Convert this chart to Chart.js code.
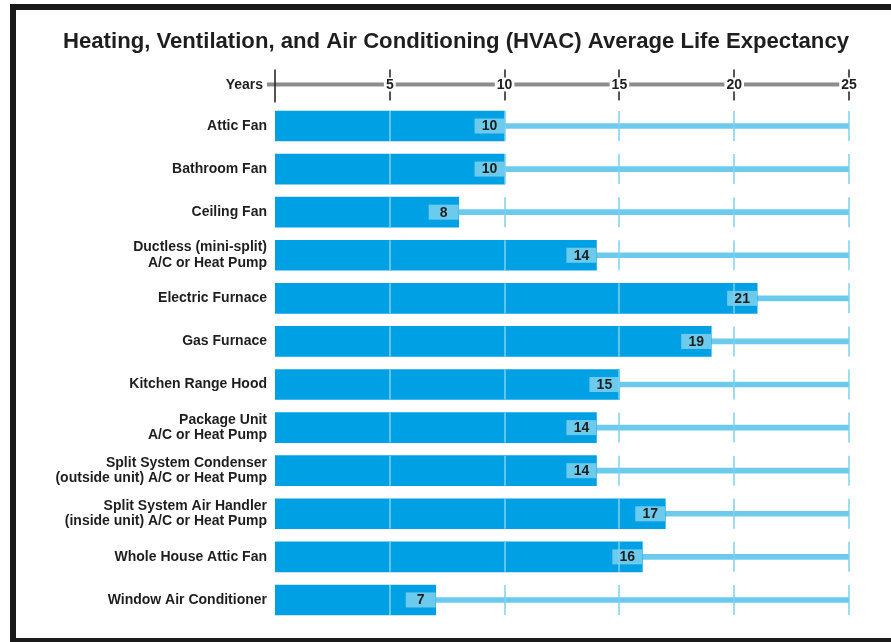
<!DOCTYPE html>
<html>
<head>
<meta charset="utf-8">
<script src="https://cdn.jsdelivr.net/npm/chart.js@4.4.0/dist/chart.umd.min.js"></script>
<style>
  html, body { margin: 0; padding: 0; background: #fff; }
  #wrap { position: relative; width: 891px; height: 642px; overflow: hidden; }
  #frame { position: absolute; left: 10px; top: 4px; width: 900px; height: 628px; border: 6px solid #1a1a1a; }
  #hvacChart { position: absolute; left: 0; top: 0; }
</style>
</head>
<body>
<div id="wrap">
  <div id="frame"></div>
  <canvas id="hvacChart" width="891" height="642"></canvas>
</div>
<script>
// Data
const chartTitle = 'Heating, Ventilation, and Air Conditioning (HVAC) Average Life Expectancy';
const axisTitle = 'Years';
const categories = [
    'Attic Fan',
    'Bathroom Fan',
    'Ceiling Fan',
    ['Ductless (mini-split)', 'A/C or Heat Pump'],
    'Electric Furnace',
    'Gas Furnace',
    'Kitchen Range Hood',
    ['Package Unit', 'A/C or Heat Pump'],
    ['Split System Condenser', '(outside unit) A/C or Heat Pump'],
    ['Split System Air Handler', '(inside unit) A/C or Heat Pump'],
    'Whole House Attic Fan',
    'Window Air Conditioner'
];
const lifeYears = [10, 10, 8, 14, 21, 19, 15, 14, 14, 17, 16, 7];
const yearTicks = [0, 5, 10, 15, 20, 25];
const axisMax = yearTicks[yearTicks.length - 1];

const fontFamily = '"Liberation Sans", Arial, Helvetica, sans-serif';
const textColor = '#1e1e1e';
const barBlue = '#00a1e4';
const lightBlue = '#6ccbed';
const titleCenterX = 456; // title sits a bit right of the canvas centre

// Custom drawing: value boxes, per-row grid marks, top axis line
const hvacDecor = {
    id: 'hvacDecor',
    afterLayout(chart) {
        const tb = chart.titleBlock;
        if (tb) tb.left = 2 * titleCenterX - tb.right;
    },
    afterDatasetsDraw(chart) {
        const { ctx, scales: { x } } = chart;
        const bars = chart.getDatasetMeta(0).data;
        ctx.save();
        bars.forEach((bar, i) => {
            const h = bar.height;
            // value box at bar end
            ctx.fillStyle = lightBlue;
            ctx.fillRect(bar.x - 30, bar.y - 7.5, 30, 15);
            // grid segments for this row
            ctx.strokeStyle = '#7dd0ef';
            ctx.lineWidth = 1.5;
            yearTicks.forEach(v => {
                if (!v) return;
                const px = Math.round(x.getPixelForValue(v));
                ctx.beginPath();
                ctx.moveTo(px, bar.y - h / 2);
                ctx.lineTo(px, bar.y + h / 2);
                ctx.stroke();
            });
            ctx.fillStyle = textColor;
            ctx.font = 'bold 14px ' + fontFamily;
            ctx.textAlign = 'center';
            ctx.textBaseline = 'middle';
            ctx.fillText(String(lifeYears[i]), bar.x - 15, bar.y + 0.5);
        });
        ctx.restore();
    },
    afterDraw(chart) {
        const { ctx, scales: { x } } = chart;
        const ay = chart.chartArea.top - 20;
        const x0 = x.getPixelForValue(0);
        ctx.save();
        ctx.font = 'bold 14px ' + fontFamily;
        ctx.fillStyle = textColor;
        ctx.textAlign = 'right';
        ctx.textBaseline = 'middle';
        ctx.fillText(axisTitle, x0 - 12, ay + 0.5);

        // gray axis line, broken around tick labels
        ctx.fillStyle = '#8c8c8c';
        let start = x0 - 8;
        yearTicks.forEach(v => {
            if (!v) return;
            const px = x.getPixelForValue(v);
            const half = ctx.measureText(String(v)).width / 2 + 2;
            ctx.fillRect(start, ay - 2, px - half - start, 4);
            start = px + half;
        });

        // tick marks
        ctx.fillStyle = textColor;
        yearTicks.forEach(v => {
            const px = Math.round(x.getPixelForValue(v));
            if (v === 0) {
                ctx.fillRect(px - 0.75, ay - 15, 1.5, 33);
            } else {
                ctx.fillRect(px - 0.75, ay - 15, 1.5, 8);
                ctx.fillRect(px - 0.75, ay + 7, 1.5, 9);
            }
        });
        ctx.restore();
    }
};

const ctx = document.getElementById('hvacChart').getContext('2d');

const hvacChart = new Chart(ctx, {
    type: 'bar',
    data: {
        labels: categories,
        datasets: [
            {
                label: 'Average life expectancy (years)',
                data: lifeYears,
                backgroundColor: barBlue,
                barThickness: 30,
                grouped: false,
                order: 0
            },
            {
                label: 'Scale',
                data: categories.map(() => axisMax),
                backgroundColor: lightBlue,
                barThickness: 5,
                grouped: false,
                order: 1
            }
        ]
    },
    options: {
        responsive: false,
        animation: false,
        indexAxis: 'y',
        layout: { padding: { left: 30, right: 42, top: 0, bottom: 20.5 } },
        plugins: {
            legend: { display: false },
            tooltip: { enabled: false },
            title: {
                display: true,
                text: chartTitle,
                color: textColor,
                font: { family: fontFamily, size: 22.3, weight: 'bold' },
                padding: { top: 28.3, bottom: 0 }
            }
        },
        scales: {
            x: {
                position: 'top',
                min: 0,
                max: axisMax,
                afterBuildTicks: scale => { scale.ticks = yearTicks.map(v => ({ value: v })); },
                afterFit: scale => { scale.height = 49.4; },
                grid: { display: false, drawTicks: false },
                border: { display: false },
                ticks: {
                    padding: 11,
                    autoSkip: false,
                    maxRotation: 0,
                    color: textColor,
                    font: { family: fontFamily, size: 14, weight: 'bold' },
                    callback: v => (v === 0 ? '' : v)
                }
            },
            y: {
                afterFit: scale => { scale.width = 245; },
                grid: { display: false, drawTicks: false },
                border: { display: false },
                ticks: {
                    padding: 8,
                    color: textColor,
                    font: { family: fontFamily, size: 14, weight: 'bold', lineHeight: 1.1 }
                }
            }
        }
    },
    plugins: [hvacDecor]
});
</script>
</body>
</html>
